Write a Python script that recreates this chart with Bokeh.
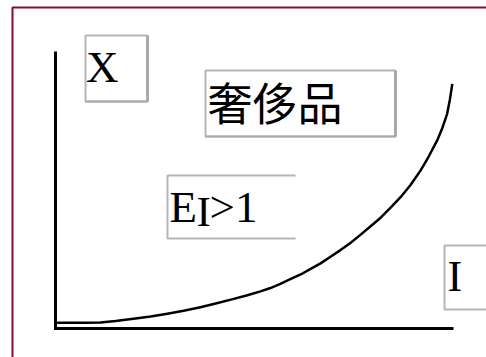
from bokeh.plotting import figure
from bokeh.models import Range1d
from bokeh.core.properties import value
from bokeh.embed import file_html
from bokeh.resources import INLINE

# Luxury good: quantity demanded X rises ever faster with income I (E_I > 1)
income = [0.4, 3.8, 7.5, 11.3, 15.1, 19.6, 23.9, 28.1, 32.2, 36.4,
          40.5, 44.8, 48.2, 51.5, 54.0, 56.5, 59.0, 61.6, 64.1, 66.6,
          69.1, 71.6, 74.1, 76.6, 79.1, 81.7, 84.2, 86.7, 89.2, 91.7,
          93.7, 95.9, 97.2, 98.4, 99.1, 99.7]
quantity = [2.1, 2.1, 2.1, 2.2, 2.7, 3.5, 4.3, 5.3, 6.4, 7.7,
            9.1, 10.7, 12.0, 13.4, 14.6, 16.1, 17.8, 19.5, 21.5, 23.5,
            25.9, 28.3, 30.9, 33.8, 36.8, 40.0, 43.6, 47.4, 51.8, 57.0,
            61.9, 67.9, 72.4, 77.5, 82.7, 88.3]

axis_max = 100
y_label = "X"
x_label = "I"
title_label = "奢侈品"
elasticity_label = ["E", "I", ">1"]

W, H = 486, 357


# canvas layout helpers: pixel position -> axis units
def sx(px):
    return (px - 55) / 3.98


def sy(py):
    return (328 - py) / 2.77


p = figure(width=W, height=H, x_range=Range1d(sx(0), sx(W)), y_range=Range1d(sy(H), sy(0)),
           output_backend="svg", toolbar_location=None, min_border=0,
           x_axis_location=None, y_axis_location=None)
p.grid.visible = False
p.outline_line_color = None
p.background_fill_color = "white"
p.border_fill_color = "white"

# frame border (top and left edges)
p.line(x=[sx(12), sx(12), sx(600)], y=[sy(500), sy(7), sy(7)],
       line_color="#7b0d3f", line_width=2)

box_gray = "#b5b5b5"
shadow_gray = "#a9a9a9"

# label boxes
for l, r, t, b in [(85, 147, 35, 101), (205, 395, 70, 136), (444, 600, 245, 309)]:
    p.quad(left=sx(l), right=sx(r), top=sy(t), bottom=sy(b),
           fill_color=None, line_color=box_gray, line_width=2)
for l, r, t, b in [(85, 147, 35, 101), (205, 395, 70, 136)]:
    p.line(x=[sx(r), sx(r)], y=[sy(t), sy(b)], line_color=shadow_gray, line_width=3)
    p.line(x=[sx(l), sx(r)], y=[sy(b), sy(b)], line_color=shadow_gray, line_width=2)
# open box around the elasticity label
p.line(x=[sx(295), sx(167), sx(167), sx(295)], y=[sy(175), sy(175), sy(238), sy(238)],
       line_color=box_gray, line_width=2)

# axes
p.line(x=[0, 0, axis_max], y=[axis_max, 0, 0], line_color="black", line_width=3,
       line_join="miter")

# Engel curve
p.line(x=income, y=quantity, line_color="black", line_width=2.5, line_join="round")

serif = value("Liberation Serif")
p.text(x=[sx(85.5)], y=[sy(66)], text=[y_label], text_font=serif, text_font_size="45px",
       text_baseline="alphabetic", text_color="black")
p.text(x=[sx(447)], y=[sy(276)], text=[x_label], text_font=serif, text_font_size="44px",
       text_baseline="alphabetic", text_color="black")
p.text(x=[sx(169)], y=[sy(206)], text=[elasticity_label[0]], text_font=serif,
       text_font_size="45px", text_baseline="alphabetic", text_color="black")
p.text(x=[sx(196)], y=[sy(210.5)], text=[elasticity_label[1]], text_font=serif,
       text_font_size="43px", text_baseline="alphabetic", text_color="black")
p.text(x=[sx(209)], y=[sy(206)], text=[elasticity_label[2]], text_font=serif,
       text_font_size="45px", text_baseline="alphabetic", text_color="black")
p.text(x=[sx(207)], y=[sy(100.5)], text=[title_label], text_font=value("Noto Sans CJK SC"),
       text_font_size="45px", text_baseline="middle", text_color="black")

open("out.html", "w").write(file_html(p, INLINE))
